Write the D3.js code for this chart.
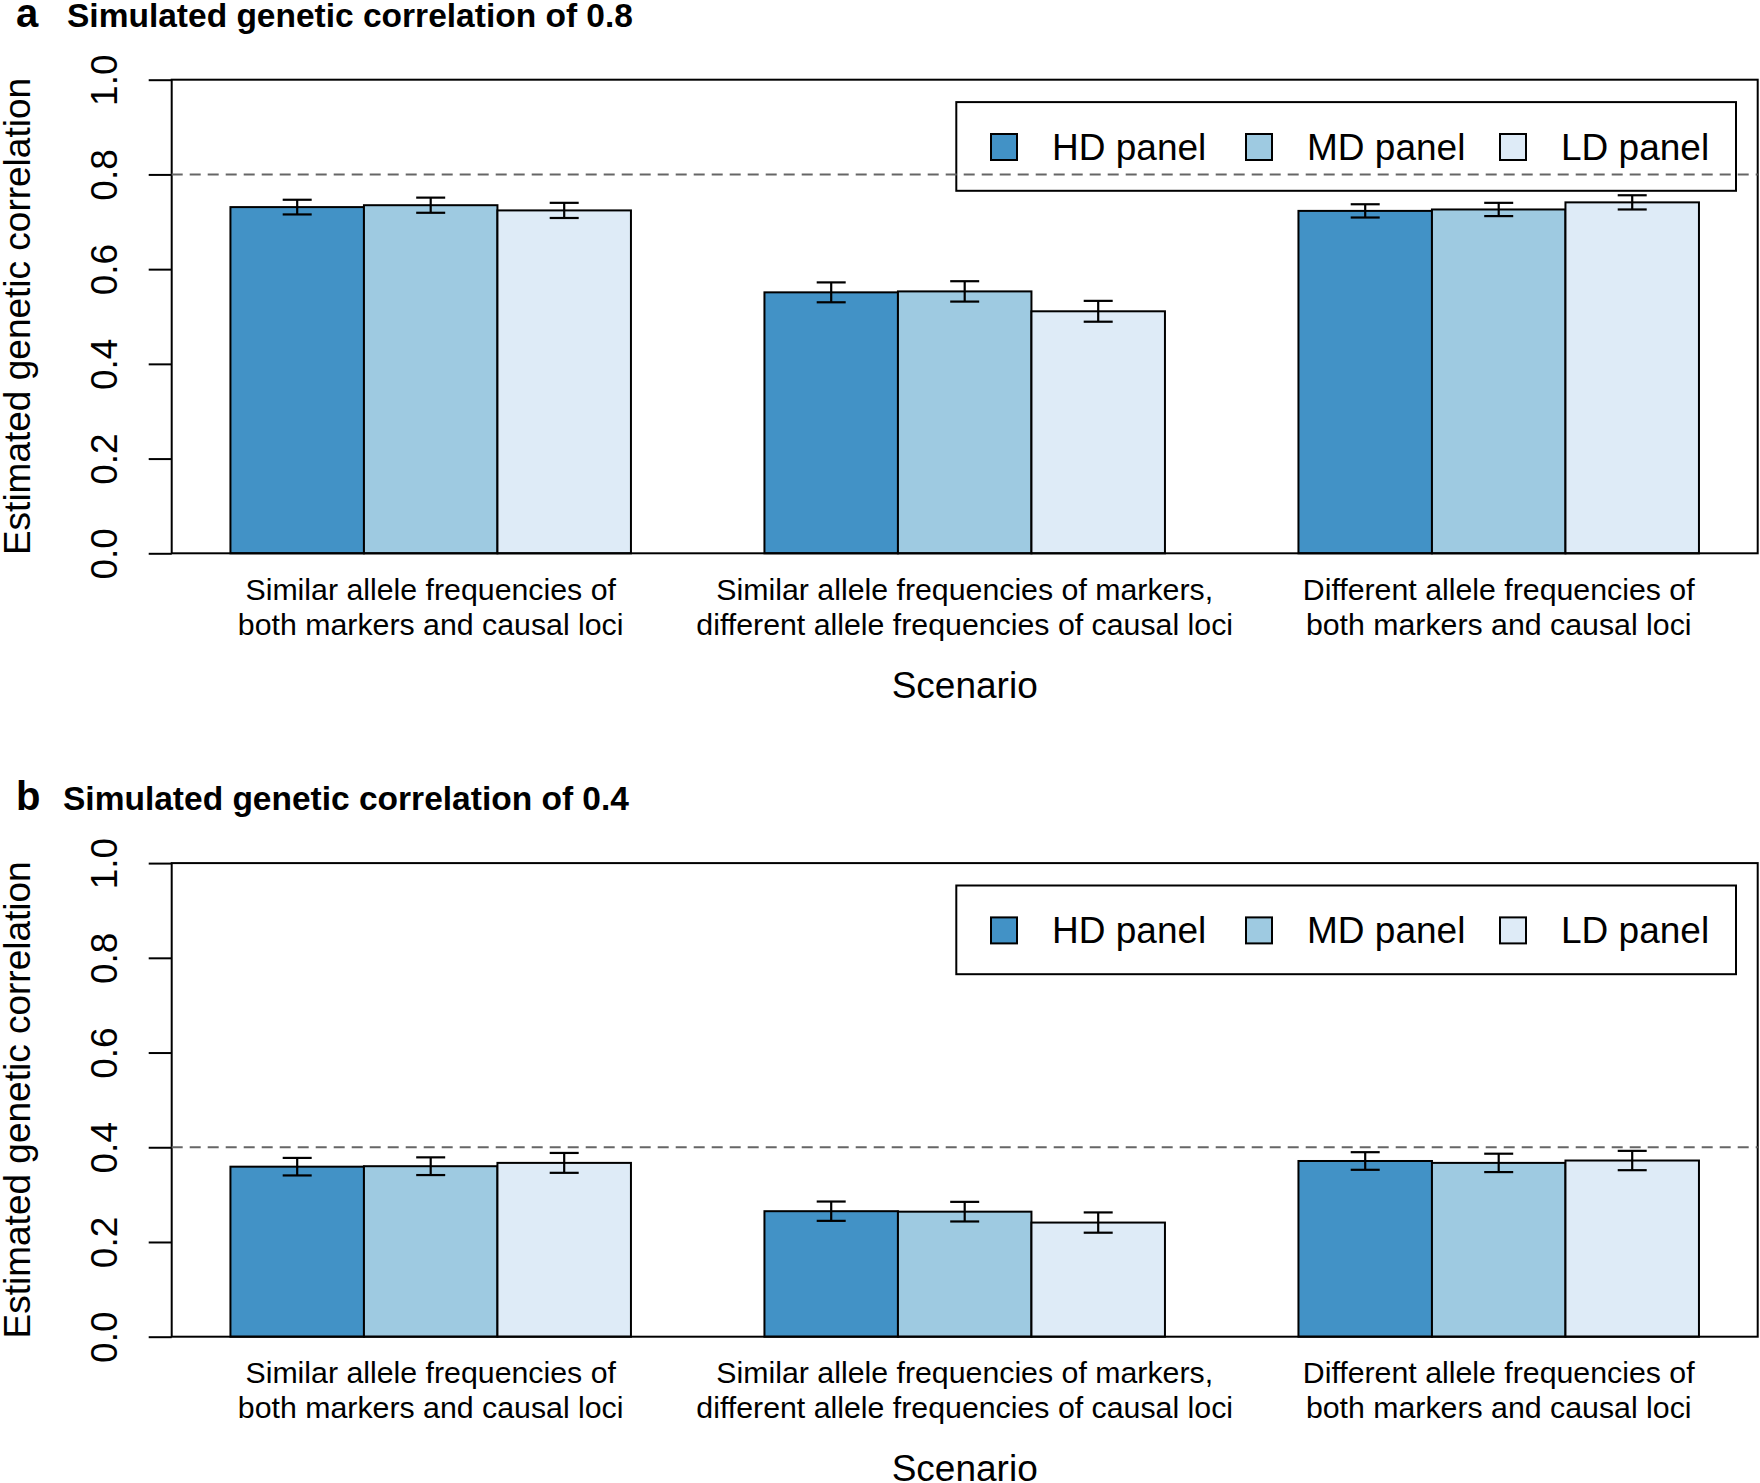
<!DOCTYPE html>
<html>
<head>
<meta charset="utf-8">
<script src="https://cdn.jsdelivr.net/npm/d3@7"></script>
<style>
  html, body { margin: 0; padding: 0; background: #fff; }
  svg { display: block; font-family: "Liberation Sans", Arial, Helvetica, sans-serif; }
</style>
</head>
<body>
<svg id="chart" width="1760" height="1483"></svg>
<script>
// ---- data ----
const scenarioLabels = [
  ["Similar allele frequencies of", "both markers and causal loci"],
  ["Similar allele frequencies of markers,", "different allele frequencies of causal loci"],
  ["Different allele frequencies of", "both markers and causal loci"]
];
const panelNames = ["HD panel", "MD panel", "LD panel"];
const panelColors = ["#4292c6", "#9ecae1", "#deebf7"];

// panel a: simulated genetic correlation 0.8
const valuesA = [
  [0.731, 0.735, 0.724],
  [0.551, 0.553, 0.511],
  [0.723, 0.726, 0.741]
];
const errorsA = [
  [0.0155, 0.016, 0.016],
  [0.021, 0.0215, 0.022],
  [0.014, 0.014, 0.015]
];
// panel b: simulated genetic correlation 0.4
const valuesB = [
  [0.359, 0.360, 0.367],
  [0.265, 0.264, 0.241],
  [0.371, 0.367, 0.372]
];
const errorsB = [
  [0.0185, 0.0187, 0.021],
  [0.0204, 0.0207, 0.0214],
  [0.0186, 0.0194, 0.0204]
];
const yTicks = [0.0, 0.2, 0.4, 0.6, 0.8, 1.0];
const simulatedValues = [0.8, 0.4];
const panelLetters = ["a", "b"];
const panelTitles = ["Simulated genetic correlation of 0.8", "Simulated genetic correlation of 0.4"];
const yAxisTitle = "Estimated genetic correlation";
const xAxisTitle = "Scenario";

// ---- layout ----
const svg = d3.select("#chart");
const plotLeft = 171.7, plotRight = 1757.7;
const plotTopBase = 79.7, plotBottomBase = 553.3;
const panelOffset = 783.4;

const panels = [
  { values: valuesA, errors: errorsA, sim: simulatedValues[0], letter: panelLetters[0], title: panelTitles[0], letterX: 16, titleX: 67 },
  { values: valuesB, errors: errorsB, sim: simulatedValues[1], letter: panelLetters[1], title: panelTitles[1], letterX: 16, titleX: 63 }
];

panels.forEach((p, pi) => {
  const off = pi * panelOffset;
  const top = plotTopBase + off, bottom = plotBottomBase + off;
  const g = svg.append("g");

  const y = d3.scaleLinear().domain([0, 1]).range([bottom, top]);
  const x0 = d3.scaleBand().domain(d3.range(scenarioLabels.length))
    .range([plotLeft, plotRight]).paddingInner(0.25).paddingOuter(0.11);
  const x1 = d3.scaleBand().domain(panelNames).range([0, x0.bandwidth()]).padding(0);

  // title
  g.append("text").attr("x", p.letterX).attr("y", 27 + off)
    .attr("font-weight", "bold").attr("font-size", 40).text(p.letter);
  g.append("text").attr("x", p.titleX).attr("y", 27 + off)
    .attr("font-weight", "bold").attr("font-size", 33.5).text(p.title);

  // bars
  const groups = g.selectAll("g.grp").data(p.values).join("g")
    .attr("transform", (d, i) => `translate(${x0(i)},0)`);
  groups.selectAll("rect").data(d => d.map((v, j) => ({ v, j }))).join("rect")
    .attr("x", d => x1(panelNames[d.j]))
    .attr("y", d => y(d.v))
    .attr("width", x1.bandwidth())
    .attr("height", d => y(0) - y(d.v))
    .attr("fill", d => panelColors[d.j])
    .attr("stroke", "#000").attr("stroke-width", 2);

  // error bars
  const capHalf = 14.5;
  groups.each(function (d, i) {
    const grp = d3.select(this);
    d.forEach((v, j) => {
      const e = p.errors[i][j];
      const cx = x1(panelNames[j]) + x1.bandwidth() / 2;
      const eg = grp.append("g").attr("stroke", "#000").attr("stroke-width", 2.2);
      eg.append("line").attr("x1", cx).attr("x2", cx).attr("y1", y(v - e)).attr("y2", y(v + e));
      eg.append("line").attr("x1", cx - capHalf).attr("x2", cx + capHalf).attr("y1", y(v + e)).attr("y2", y(v + e));
      eg.append("line").attr("x1", cx - capHalf).attr("x2", cx + capHalf).attr("y1", y(v - e)).attr("y2", y(v - e));
    });
  });

  // box
  g.append("rect").attr("x", plotLeft).attr("y", top)
    .attr("width", plotRight - plotLeft).attr("height", bottom - top)
    .attr("fill", "none").attr("stroke", "#000").attr("stroke-width", 2);

  // y axis
  const yAxis = d3.axisLeft(y).tickValues(yTicks).tickSize(23).tickFormat(d3.format(".1f"));
  const ya = g.append("g").attr("transform", `translate(${plotLeft},0)`).call(yAxis);
  ya.select(".domain").remove();
  ya.selectAll(".tick line").attr("stroke", "#000").attr("stroke-width", 2);
  ya.selectAll(".tick text")
    .attr("x", null).attr("dy", null)
    .attr("text-anchor", "middle")
    .attr("transform", "translate(-55,0) rotate(-90)")
    .attr("font-size", 37).attr("fill", "#000")
    .style("font-family", '"Liberation Sans", Arial, sans-serif');

  // y axis title
  g.append("text")
    .attr("transform", `translate(29.5,${(top + bottom) / 2}) rotate(-90)`)
    .attr("text-anchor", "middle").attr("font-size", 37).text(yAxisTitle);

  // category labels
  scenarioLabels.forEach((lines, i) => {
    const cx = x0(i) + x0.bandwidth() / 2;
    lines.forEach((ln, k) => {
      g.append("text").attr("x", cx).attr("y", bottom + 46.5 + k * 35)
        .attr("text-anchor", "middle").attr("font-size", 30.3).text(ln);
    });
  });

  // x axis title
  g.append("text").attr("x", (plotLeft + plotRight) / 2).attr("y", bottom + 144.5)
    .attr("text-anchor", "middle").attr("font-size", 37).text(xAxisTitle);

  // legend
  const lg = g.append("g");
  lg.append("rect").attr("x", 956.3).attr("y", 102.1 + off)
    .attr("width", 1736 - 956.3).attr("height", 88.7)
    .attr("fill", "none").attr("stroke", "#000").attr("stroke-width", 2);
  const legX = [991, 1246, 1500];
  panelNames.forEach((name, j) => {
    lg.append("rect").attr("x", legX[j]).attr("y", 134 + off).attr("width", 26).attr("height", 26)
      .attr("fill", panelColors[j]).attr("stroke", "#000").attr("stroke-width", 2);
    lg.append("text").attr("x", legX[j] + 61).attr("y", 160 + off)
      .attr("font-size", 37).text(name);
  });

  // simulated value reference line
  g.append("line").attr("x1", plotLeft).attr("x2", plotRight)
    .attr("y1", y(p.sim)).attr("y2", y(p.sim))
    .attr("stroke", "#666").attr("stroke-width", 2).attr("stroke-dasharray", "11,7");
});
</script>
</body>
</html>
